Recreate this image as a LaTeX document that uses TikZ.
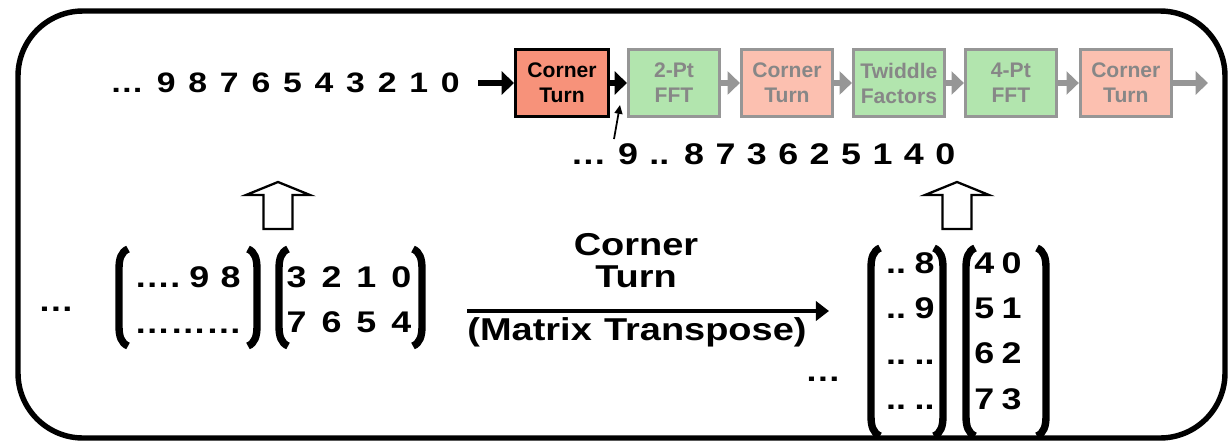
\documentclass[tikz,border=0pt]{standalone}
\usepackage{fontspec}
\setmainfont{Liberation Sans}
\usetikzlibrary{positioning,arrows.meta}

\definecolor{turnhot}{RGB}{247,146,122}
\definecolor{turnpale}{RGB}{252,192,176}
\definecolor{fftgreen}{RGB}{178,229,174}
\definecolor{stagegray}{RGB}{150,150,150}

\begin{document}
\begin{tikzpicture}[
		x=0.02cm, y=-0.02cm,
		every node/.style={inner sep=0pt},
		stage/.style={rectangle, draw=stagegray, line width=1.7pt, minimum width=1.82cm, minimum height=1.33cm,
			align=center, text=stagegray!90!black, font={\bfseries\fontsize{12pt}{14.2pt}\selectfont}},
		seq/.style={xscale=1.2, font={\bfseries\fontsize{#1pt}{#1pt}\selectfont\spaceskip=0.32em\relax}},
		mat/.style={xscale=1.2, font={\bfseries\fontsize{17pt}{25.8pt}\selectfont\spaceskip=#1\relax}},
		flow/.style={line width=3.4pt, -{Triangle[length=7pt, width=13pt]}},
		brk/.style={line width=4.2pt},
		hollow/.style={draw, line width=1.3pt, fill=white}
	]
  \useasboundingbox (0,0) rectangle (1228,443);
  \draw [line width=3.1pt, rounded corners=1.3cm] (18,11) rectangle (1225,438);

  \node (topseq) [seq=16, font={\bfseries\fontsize{16pt}{16pt}\selectfont\spaceskip=0.38em\relax}] at (285,83) {… 9 8 7 6 5 4 3 2 1 0};
  \node (ct1) [stage, draw=black, fill=turnhot, text=black, minimum width=1.86cm] at (562,83) {Corner\\Turn};
  \node (fft2) [stage, fill=fftgreen, right=0.34cm of ct1] {2-Pt\\FFT};
  \node (ct2) [stage, fill=turnpale, right=0.38cm of fft2] {Corner\\Turn};
  \node (twid) [stage, fill=fftgreen, right=0.36cm of ct2] {Twiddle\\Factors};
  \node (fft4) [stage, fill=fftgreen, right=0.36cm of twid] {4-Pt\\FFT};
  \node (ct3) [stage, fill=turnpale, right=0.42cm of fft4] {Corner\\Turn};
  \coordinate (tail) at (1208,83);

  \draw [flow, shorten <=0.36cm] (topseq) -- (ct1);
  \draw [flow] (ct1) -- (fft2);
  \foreach \a/\b in {fft2/ct2, ct2/twid, twid/fft4, fft4/ct3, ct3/tail}
    \draw [flow, stagegray] (\a) -- (\b);

  \node (midseq) [seq=17] at (763,154) {… 9 .. 8 7 3 6 2 5 1 4 0};
  \coordinate (tapfoot) at (614,139);
  \coordinate (tap) at (620,105);
  \draw [line width=1pt, -{Triangle[length=5pt, width=4.5pt]}] (tapfoot) -- (tap);

  \foreach \c in {278, 957}
    \draw [hollow] (\c-14.5,229) -- (\c-14.5,195) -- (\c-32,195) -- (\c,182)
      -- (\c+32,195) -- (\c+14.5,195) -- (\c+14.5,229) -- cycle;

  \node (dotsl) [seq=17] at (56,309) {…};
  \node (rowsa) [mat=0.32em, align=left, anchor=west] at (134,300) {….\hspace{-0.16em} 9 8\\………};
  \node (rowsb) [mat=0.42em, align=left] at (349,300) {3 2 1 0\\7 6 5 4};

  \node (dotsr) [seq=17] at (823,379) {…};
  \node (colsa) [mat=0.15em, align=right, anchor=east] at (935,331) {.. 8\\.. 9\\.. ..\\.. ..};
  \node (colsb) [mat=0.2em, align=left] at (998,331) {4 0\\5 1\\6 2\\7 3};

  \foreach \x/\t/\b in {119/249/346, 279/249/346, 871/248/436, 966/248/436}
    \draw [brk] (\x+9,\t) .. controls (\x+2,\t+3) and (\x,\t+10) .. (\x,\t+20)
      -- (\x,\b-20) .. controls (\x,\b-10) and (\x+2,\b-3) .. (\x+9,\b);
  \foreach \x/\t/\b in {257/249/346, 422/249/346, 943/248/436, 1046/248/436}
    \draw [brk] (\x-9,\t) .. controls (\x-2,\t+3) and (\x,\t+10) .. (\x,\t+20)
      -- (\x,\b-20) .. controls (\x,\b-10) and (\x-2,\b-3) .. (\x-9,\b);

  \coordinate (tl) at (467,311);
  \coordinate (tr) at (829,311);
  \draw [line width=2.5pt, -{Triangle[length=7.5pt, width=11pt]}] (tl) -- (tr);
  \node (ctlabel) [seq=18, align=center, font={\bfseries\fontsize{18pt}{18.2pt}\selectfont}] at (636,261) {Corner\\Turn};
  \node (mtlabel) [seq=18, anchor=base] at (637,340) {(Matrix Transpose)};
\end{tikzpicture}
\end{document}
